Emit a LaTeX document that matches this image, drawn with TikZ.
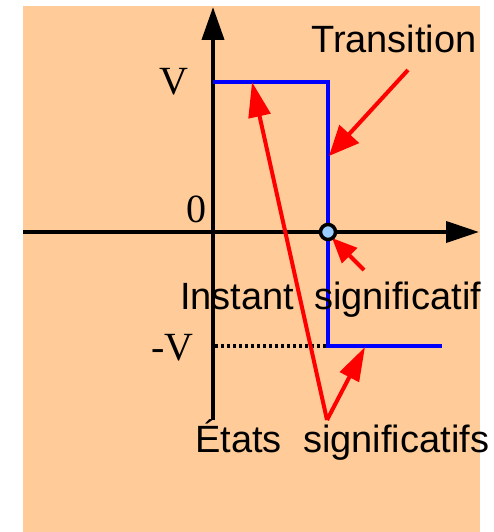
\documentclass[tikz,border=0pt]{standalone}
\usepackage{fontspec}
\setmainfont{Liberation Serif}
\newfontfamily\arialf{Liberation Sans}
\usetikzlibrary{arrows.meta}
\definecolor{peach}{HTML}{FFCC99}
\definecolor{ptblue}{HTML}{99CCFF}
\tikzset{
  axis/.style={line width=4pt, black},
  sig/.style={line width=4pt, blue},
  redarr/.style={line width=4pt, red},
  lbl/.style={font=\arialf\fontsize{38}{40}\selectfont, inner sep=0pt, anchor=base west},
  vlbl/.style={font=\fontsize{40}{44}\selectfont, inner sep=0pt, anchor=base west},
}
\begin{document}
\begin{tikzpicture}[x=1pt,y=-1pt]
\useasboundingbox (0,0) rectangle (493,532);
\fill[peach] (23,6) rectangle (480,532);
% axes
\coordinate (xs) at (23,232);
\coordinate (xe) at (479,232);
\coordinate (ys) at (213,420);
\coordinate (ye) at (213,7);
\draw[axis, -{Triangle[length=33pt,width=21pt]}] (xs) -- (xe);
\draw[axis, -{Triangle[length=33pt,width=22pt]}] (ys) -- (ye);
% dotted -V level
\coordinate (d1) at (215,346);
\coordinate (d2) at (328,346);
\draw[line width=3.5pt, dash pattern=on 3pt off 3pt] (d1) -- (d2);
% signal
\coordinate (s1) at (213,82);
\coordinate (s2) at (328,82);
\coordinate (s3) at (328,346);
\coordinate (s4) at (442,346);
\draw[sig] (s1) -- (s2) -- (s3) -- (s4);
% labels
\node[vlbl] (V) at (159,95) {V};
\node[vlbl] (zero) at (186,222) {0};
\node[vlbl] (mV) at (151,360) {-V};
\node[lbl] (trans) at (311,53) {Transition};
\node[lbl] (inst) at (180,309) {Instant};
\node[lbl] (signif) at (314,309) {significatif};
\node[lbl] (etats) at (195,452) {États};
\node[lbl] (signifs) at (303,452) {significatifs};
% red arrows
\coordinate (t0) at (408,70);
\coordinate (t1) at (329,156);
\draw[redarr, -{Triangle[length=30pt,width=26pt]}] (t0) -- (t1);
\coordinate (i0) at (364,270);
\coordinate (i1) at (332,238);
\draw[redarr, -{Triangle[length=25pt,width=21pt]}] (i0) -- (i1);
\coordinate (apex) at (327,420);
\coordinate (e1) at (252,82);
\coordinate (e2) at (365,347);
\draw[redarr, -{Triangle[length=35pt,width=22pt]}] (apex) -- (e1);
\draw[redarr, -{Triangle[length=34pt,width=21pt]}] (apex) -- (e2);
% significant instant point
\node[circle, draw=black, line width=3.5pt, fill=ptblue, minimum size=15pt, inner sep=0pt] (pt) at (328,232) {};
\end{tikzpicture}
\end{document}
